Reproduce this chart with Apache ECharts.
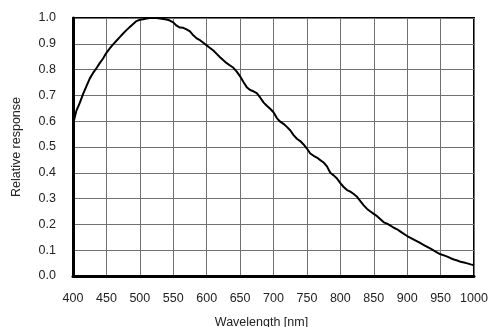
<!DOCTYPE html>
<html>
<head>
<meta charset="utf-8">
<script src="https://cdn.jsdelivr.net/npm/echarts@6/dist/echarts.min.js"></script>
<style>
  html, body { margin: 0; padding: 0; background: #fff; }
  #chart { width: 500px; height: 327px; }
</style>
</head>
<body>
<div id="chart"></div>
<script>
// Spectral response curve: wavelength (nm) vs relative response
const wavelengths = [
  400, 405, 410, 415, 420, 425, 430, 435, 440, 445,
  450, 455, 460, 465, 470, 475, 480, 485, 490, 495,
  500, 505, 510, 515, 520, 525, 530, 535, 540, 545,
  550, 555, 560, 565, 570, 575, 580, 585, 590, 595,
  600, 605, 610, 615, 620, 625, 630, 635, 640, 645,
  650, 655, 660, 665, 670, 675, 680, 685, 690, 695,
  700, 705, 710, 715, 720, 725, 730, 735, 740, 745,
  750, 755, 760, 765, 770, 775, 780, 785, 790, 795,
  800, 805, 810, 815, 820, 825, 830, 835, 840, 845,
  850, 855, 860, 865, 870, 875, 880, 885, 890, 895,
  900, 905, 910, 915, 920, 925, 930, 935, 940, 945,
  950, 955, 960, 965, 970, 975, 980, 985, 990, 995,
  1000
];
const response = [
  0.588, 0.640, 0.670, 0.705, 0.735, 0.765, 0.787, 0.805, 0.825, 0.843,
  0.865, 0.882, 0.898, 0.912, 0.926, 0.940, 0.953, 0.965, 0.977, 0.988,
  0.993, 0.995, 0.998, 1.000, 1.000, 1.000, 0.998, 0.996, 0.994, 0.990,
  0.983, 0.970, 0.963, 0.962, 0.956, 0.948, 0.933, 0.921, 0.914, 0.904,
  0.894, 0.884, 0.874, 0.861, 0.848, 0.836, 0.825, 0.816, 0.807, 0.792,
  0.774, 0.752, 0.732, 0.721, 0.716, 0.709, 0.692, 0.673, 0.660, 0.648,
  0.635, 0.612, 0.598, 0.590, 0.578, 0.565, 0.546, 0.532, 0.523, 0.510,
  0.494, 0.475, 0.466, 0.459, 0.449, 0.440, 0.425, 0.400, 0.390, 0.378,
  0.360, 0.345, 0.333, 0.327, 0.318, 0.307, 0.290, 0.274, 0.260, 0.250,
  0.241, 0.232, 0.220, 0.208, 0.203, 0.195, 0.187, 0.181, 0.172, 0.163,
  0.155, 0.148, 0.141, 0.134, 0.127, 0.120, 0.113, 0.106, 0.098, 0.091,
  0.084, 0.080, 0.075, 0.069, 0.064, 0.060, 0.055, 0.052, 0.049, 0.045,
  0.042
];

const xName = 'Wavelength [nm]';
const yName = 'Relative response';
const xMin = 400, xMax = 1000, xStep = 50;
const yMin = 0, yMax = 1, yStep = 0.1;

const font = 'Arial, "Liberation Sans", Helvetica, sans-serif';
const chart = echarts.init(document.getElementById('chart'), null, { renderer: 'canvas' });

chart.setOption({
  animation: false,
  backgroundColor: '#ffffff',
  grid: {
    left: 73, right: 26, top: 18, bottom: 51,
    outerBoundsMode: 'none',
    containLabel: false,
    show: true, borderColor: '#000', borderWidth: 2, backgroundColor: 'transparent'
  },
  xAxis: {
    type: 'value',
    min: xMin, max: xMax, interval: xStep,
    name: xName,
    nameLocation: 'middle',
    nameGap: 40,
    nameTextStyle: { fontFamily: font, fontSize: 12.5, color: '#222', padding: [0, 24, 0, 0] },
    axisLine: { show: true, onZero: false, lineStyle: { color: '#000', width: 3 } },
    axisTick: { show: false },
    axisLabel: {
      fontFamily: font, fontSize: 12.5, color: '#222', margin: 16,
      formatter: v => String(v)
    },
    splitLine: { show: true, lineStyle: { color: '#707070', width: 1 } }
  },
  yAxis: {
    type: 'value',
    min: yMin, max: yMax, interval: yStep,
    name: yName,
    nameLocation: 'middle',
    nameGap: 50,
    nameTextStyle: { fontFamily: font, fontSize: 12.5, color: '#222' },
    axisLine: { show: true, lineStyle: { color: '#000', width: 3 } },
    axisTick: { show: false },
    axisLabel: {
      fontFamily: font, fontSize: 12.5, color: '#222', margin: 17,
      formatter: v => v.toFixed(1)
    },
    splitLine: { show: true, lineStyle: { color: '#707070', width: 1 } }
  },
  series: [{
    type: 'line',
    data: wavelengths.map((w, i) => [w, response[i]]),
    showSymbol: false,
    smooth: false,
    lineStyle: { color: '#000', width: 2 },
    z: 5
  }]
});
</script>
</body>
</html>
